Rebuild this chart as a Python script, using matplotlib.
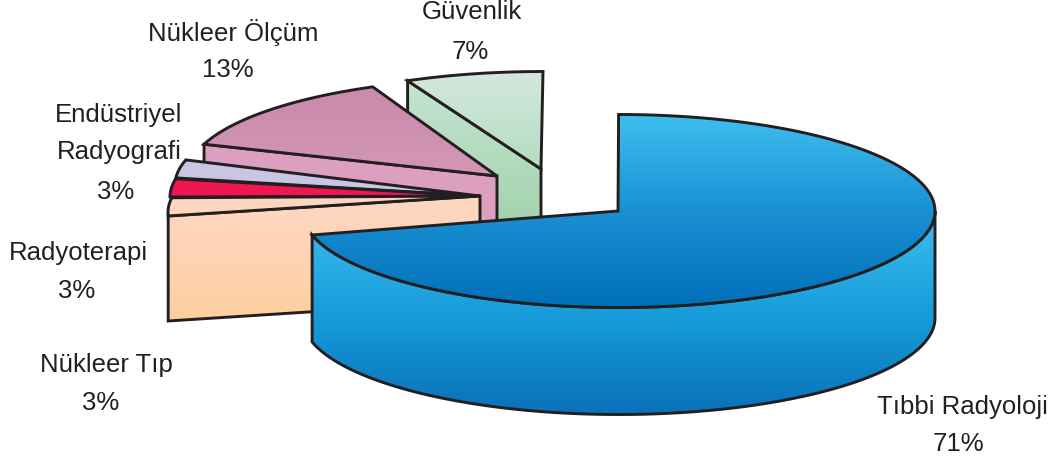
import numpy as np
import matplotlib
matplotlib.use('Agg')
import matplotlib.pyplot as plt
from matplotlib.colors import LinearSegmentedColormap
from matplotlib.patches import Polygon

plt.rcParams['font.family'] = ['Liberation Sans', 'DejaVu Sans']

# slices, clockwise from 12 o'clock
labels = ['Tıbbi Radyoloji', 'Nükleer Tıp', 'Radyoterapi',
          'Endüstriyel\nRadyografi', 'Nükleer Ölçüm', 'Güvenlik']
shares = [71, 3, 3, 3, 13, 7]

# inner point of each slice after exploding it
apex_x = [618, 480, 480, 480, 497, 541]
apex_y = [212, 197, 197, 197, 177, 170]
# ellipse each outer arc lies on, extra rotation (deg), radius scale, extrusion
rim_x = [618.6, 486, 488, 493, 505.6, 543]
rim_y = [212, 213.6, 198, 186, 176, 169.5]
rotate = [0, 12.4, 3.6, -3, 0.5, 0]
scale = [0.995, 1, 1, 1, 1, 1]
depth = [107, 105, 0, 0, 105, 105]

# (colour stops, y of first stop, y of last stop)
top_fill = [(['#3fbff0', '#1a90d3', '#0070b9'], 115, 308),
            (['#fdd6c0', '#fdd6c0'], 198, 217),
            (['#ef1651', '#ef1651'], 179, 198),
            (['#c9c6e3', '#c9c6e3'], 160, 179),
            (['#c98aab', '#d497b5'], 88, 178),
            (['#d2e8dc', '#b6dcc3'], 72, 170)]
wall_fill = [(['#3dbdee', '#189ddb', '#0a72ba'], 215, 412),
             (['#fdd6c0', '#fdcf9e'], 217, 322),
             None,
             None,
             (['#dc9fc0', '#dc9fc0'], 145, 280),
             (['#c6e4d0', '#a3d3ae'], 80, 225)]

label_x = [962, 106, 78, 119, 233, 472]
label_y = [407, 365, 253, 115, 33, 12]
value_x = [958, 101, 77, 116, 228, 470]
value_y = [444, 403, 291, 192, 70, 52]

RX, RY = 318, 97
INK = '#231f20'
LW = 2.1

W, H = 1057, 464
fig = plt.figure(figsize=(W / 100, H / 100), dpi=100)
ax = fig.add_axes([0, 0, 1, 1])


def rim(i, deg):
    deg = np.radians(deg)
    return np.column_stack([rim_x[i] + scale[i] * RX * np.sin(deg),
                            rim_y[i] - scale[i] * RY * np.cos(deg)])


def face(pts, fill, z):
    # polygon filled with a vertical gradient, outlined on top
    stops, y0, y1 = fill
    cmap = LinearSegmentedColormap.from_list('f', stops)
    grad = np.clip((np.arange(H)[:, None] + 0.5 - y0) / (y1 - y0), 0, 1)
    im = ax.imshow(grad, cmap=cmap, vmin=0, vmax=1, extent=(0, W, H, 0),
                   aspect='auto', zorder=z)
    clip = Polygon(pts, closed=True, transform=ax.transData, fc='none', ec='none')
    ax.add_patch(clip)
    im.set_clip_path(clip)
    ax.add_patch(Polygon(pts, closed=True, fc='none', ec=INK, lw=LW,
                         joinstyle='miter', zorder=z + 0.1))


edges = np.cumsum([0] + shares) / sum(shares) * 360
apexes = np.column_stack([apex_x, apex_y])

# back slices first, the big one last
for i in [5, 4, 3, 2, 1, 0]:
    a0, a1 = edges[i] + rotate[i], edges[i + 1] + rotate[i]
    drop = np.array([0, depth[i]])
    if i == 0:
        # outer wall of the big slice, right side round to the cut
        arc = rim(0, np.linspace(90, a1, 200))
        face(np.vstack([arc, (arc + drop)[::-1]]), wall_fill[0], 20)
    elif depth[i]:
        # cut face hanging below the leading radial edge
        p = rim(i, a0)[0]
        wall = np.array([p, apexes[i], apexes[i] + drop, p + drop])
        face(wall, wall_fill[i], 2 + (5 - i) * 3)
    arc = rim(i, np.linspace(a0, a1, 120))
    face(np.vstack([apexes[i], arc]), top_fill[i], (3 + (5 - i) * 3) if i else 22)

for i in range(len(labels)):
    for k, line in enumerate(labels[i].split('\n')):
        ax.text(label_x[i], label_y[i] + k * 37, line, ha='center', va='center',
                fontsize=18.5, color=INK, zorder=30)
    ax.text(value_x[i], value_y[i], f'{shares[i]}%', ha='center', va='center',
            fontsize=18.5, color=INK, zorder=30)

ax.set_xlim(0, W)
ax.set_ylim(H, 0)
ax.axis('off')

fig.savefig('out.png', dpi=100)
